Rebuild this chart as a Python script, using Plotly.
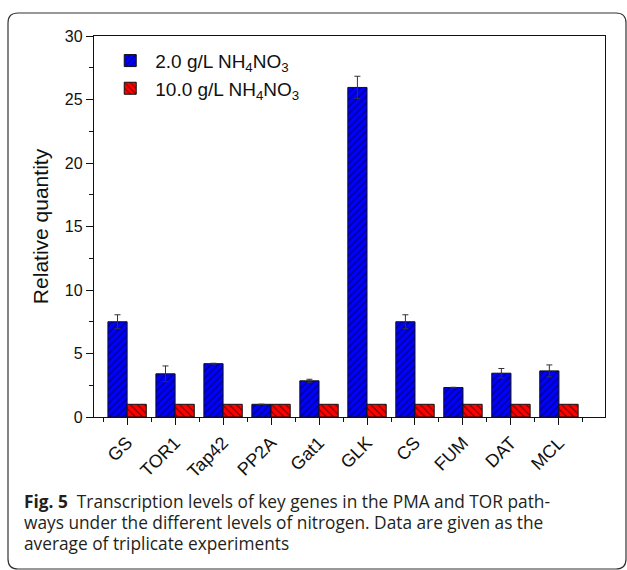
import plotly.graph_objects as go

genes = ["GS", "TOR1", "Tap42", "PP2A", "Gat1", "GLK", "CS", "FUM", "DAT", "MCL"]
low_n = [7.5, 3.4, 4.2, 1.0, 2.85, 25.95, 7.5, 2.32, 3.45, 3.63]
low_n_err = [0.55, 0.62, 0.03, 0.0, 0.12, 0.88, 0.55, 0.02, 0.37, 0.47]
high_n = [1.0] * 10
y_ticks = [0, 5, 10, 15, 20, 25, 30]
caption_lines = [
    "<b>Fig. 5</b>  Transcription levels of key genes in the PMA and TOR path-",
    "ways under the different levels of nitrogen. Data are given as the",
    "average of triplicate experiments",
]

xs = list(range(len(genes)))

fig = go.Figure()
fig.add_trace(go.Bar(
    x=xs, y=low_n, name="2.0 g/L NH<sub>4</sub>NO<sub>3</sub>",
    marker=dict(color="#0000FF", line=dict(color="#111111", width=1),
                pattern=dict(shape="/", fgcolor="#000000", size=5, solidity=0.25)),
    error_y=dict(type="data", array=low_n_err, color="#333333", thickness=1, width=3),
))
fig.add_trace(go.Bar(
    x=xs, y=high_n, name="10.0 g/L NH<sub>4</sub>NO<sub>3</sub>",
    marker=dict(color="#FF0000", line=dict(color="#111111", width=1),
                pattern=dict(shape="\\", fgcolor="#000000", size=5, solidity=0.25)),
))

L, T, W, H = 94, 36, 511, 381
def px(xp): return (xp - L) / W
def py(yp): return (T + H - yp) / H

x0, x1, y0, y1 = 8, 626, 13, 569
r = 10
path = (f"M {px(x0+r)} {py(y0)} L {px(x1-r)} {py(y0)} Q {px(x1)} {py(y0)} {px(x1)} {py(y0+r)} "
        f"L {px(x1)} {py(y1-r)} Q {px(x1)} {py(y1)} {px(x1-r)} {py(y1)} "
        f"L {px(x0+r)} {py(y1)} Q {px(x0)} {py(y1)} {px(x0)} {py(y1-r)} "
        f"L {px(x0)} {py(y0+r)} Q {px(x0)} {py(y0)} {px(x0+r)} {py(y0)} Z")

caption_y = [502, 522.5, 543]
annotations = [dict(text=t, xref="paper", yref="paper", x=px(22), y=py(cy),
                    xanchor="left", yanchor="middle", align="left", showarrow=False,
                    font=dict(family="Open Sans, Noto Sans, sans-serif", size=17.3, color="#231f20"))
               for t, cy in zip(caption_lines, caption_y)]

fig.update_layout(
    width=627, height=570,
    margin=dict(l=L, r=627 - L - W, t=T, b=570 - T - H),
    paper_bgcolor="white", plot_bgcolor="white",
    barmode="group", bargap=0.2, bargroupgap=0,
    font=dict(family="Liberation Sans, Arial, sans-serif", color="#111111"),
    showlegend=True,
    legend=dict(x=0.022, y=0.985, xanchor="left", yanchor="top",
                font=dict(size=19), bgcolor="rgba(0,0,0,0)", itemwidth=40),
    xaxis=dict(range=[-0.69, 9.96], tickmode="array", tickvals=xs, ticktext=genes,
               tickangle=-45, tickfont=dict(size=18), ticks="outside", ticklen=7,
               tickcolor="#111111", showline=True, linecolor="#111111", linewidth=1.3,
               mirror=True, showgrid=False, zeroline=False,
               minor=dict(tickmode="array", tickvals=[i - 0.5 for i in range(len(genes) + 1)],
                          ticks="outside", ticklen=4, tickcolor="#111111")),
    yaxis=dict(range=[0, 30], tickmode="array", tickvals=y_ticks,
               tickfont=dict(size=16), ticks="outside", ticklen=7, tickcolor="#111111",
               showline=True, linecolor="#111111", linewidth=1.3, mirror=True,
               showgrid=False, zeroline=False,
               title=dict(text="Relative quantity", font=dict(size=21), standoff=10),
               minor=dict(dtick=2.5, ticks="outside", ticklen=4, tickcolor="#111111")),
    shapes=[dict(type="path", xref="paper", yref="paper", path=path,
                 line=dict(color="#333333", width=1.2), fillcolor="rgba(0,0,0,0)", layer="below")],
    annotations=annotations,
)

fig.write_html("out.html", config={"displayModeBar": False},
               post_script="document.body.style.margin='0px';document.body.style.overflow='hidden';")
